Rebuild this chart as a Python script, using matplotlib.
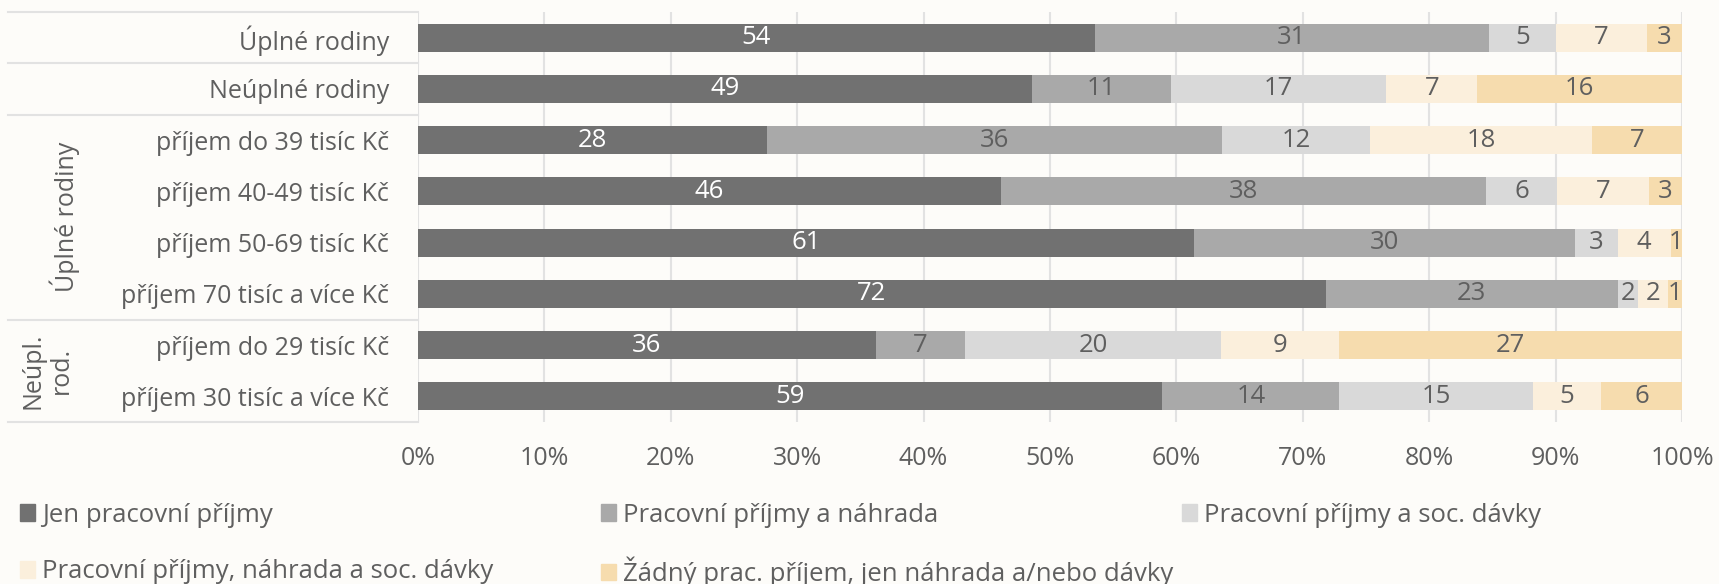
import matplotlib.pyplot as plt
import matplotlib.patches as mpatches
import matplotlib.transforms as mtransforms
import numpy as np

plt.rcParams['font.family'] = ['Open Sans', 'DejaVu Sans']

# data (percent of households)
categories = ['Úplné rodiny', 'Neúplné rodiny',
              'příjem do 39 tisíc Kč', 'příjem 40-49 tisíc Kč',
              'příjem 50-69 tisíc Kč', 'příjem 70 tisíc a více Kč',
              'příjem do 29 tisíc Kč', 'příjem 30 tisíc a více Kč']
series_names = ['Jen pracovní příjmy', 'Pracovní příjmy a náhrada',
                'Pracovní příjmy a soc. dávky',
                'Pracovní příjmy, náhrada a soc. dávky',
                'Žádný prac. příjem, jen náhrada a/nebo dávky']
jen_prace = [53.6, 48.6, 27.6, 46.1, 61.4, 71.8, 36.2, 58.9]
prace_nahrada = [31.2, 11.0, 36.0, 38.4, 30.1, 23.1, 7.1, 14.0]
prace_davky = [5.3, 17.0, 11.7, 5.6, 3.4, 1.6, 20.2, 15.3]
prace_nahrada_davky = [7.2, 7.2, 17.6, 7.3, 4.2, 2.4, 9.4, 5.4]
zadna_prace = [2.8, 16.2, 7.1, 2.6, 0.9, 1.1, 27.1, 6.4]
x_ticks = [0, 10, 20, 30, 40, 50, 60, 70, 80, 90, 100]

colors = ['#717171', '#a9a9a9', '#d9d9d9', '#fbefdc', '#f6dcae']
label_colors = ['white', '#5f5f5f', '#5f5f5f', '#5f5f5f', '#5f5f5f']
bg = '#fdfcf9'
text_c = '#5f5f5f'
line_c = '#e2e2e2'

fig = plt.figure(figsize=(17.19, 5.84), dpi=100, facecolor=bg)
ax = fig.add_axes([418 / 1719, 1 - 422 / 584, 1264 / 1719, 410 / 584])
ax.set_facecolor(bg)

data = np.array([jen_prace, prace_nahrada, prace_davky,
                 prace_nahrada_davky, zadna_prace])
data = data / data.sum(axis=0) * 100
y = np.arange(len(categories))
left = np.zeros(len(categories))
for vals, c, lc in zip(data, colors, label_colors):
    bars = ax.barh(y, vals, left=left, height=0.55, color=c, zorder=3)
    ax.bar_label(bars, labels=[f'{v:.0f}' for v in vals], label_type='center',
                 color=lc, fontsize=18.5)
    left += vals

ax.set_xlim(0, 100)
ax.set_ylim(7.5, -0.5)
ax.set_xticks(x_ticks)
ax.set_xticklabels([f'{t}%' for t in x_ticks])
ax.set_yticks(y)
ax.set_yticklabels(categories)
ax.tick_params(length=0, labelsize=18, labelcolor=text_c)
ax.tick_params(axis='y', pad=21)
ax.tick_params(axis='x', pad=17)
ax.grid(axis='x', color=line_c, lw=1.5, zorder=0)
for s in ax.spines.values():
    s.set_visible(False)

# table-like row group lines on the left
tr = mtransforms.blended_transform_factory(ax.transAxes, ax.transData)
x_left = (8 - 418) / 1264
for yy in [-0.5, 0.5, 1.5, 5.5, 7.5]:
    ax.plot([x_left, 0], [yy, yy], color=line_c, lw=1.5, transform=tr,
            clip_on=False)

ax.text((65 - 418) / 1264, 3.5, 'Úplné rodiny', rotation=90, ha='center',
        va='center', fontsize=18, color=text_c, transform=tr)
ax.text((47 - 418) / 1264, 6.5, 'Neúpl.\nrod.', rotation=90, ha='center',
        va='center', fontsize=18, color=text_c, transform=tr,
        linespacing=1.15)

# legend entries placed like the reference
legend_pos = [(20, 515), (601, 515), (1182, 515), (20, 572), (601, 572)]
for name, c, (px, py) in zip(series_names, colors, legend_pos):
    h = mpatches.Patch(color=c)
    fig.legend(handles=[h], labels=[name], loc='center left',
               bbox_to_anchor=(px / 1719, 1 - py / 584), frameon=False,
               fontsize=18.5, labelcolor=text_c, handlelength=0.6,
               handleheight=0.6, handletextpad=0.25, borderpad=0,
               borderaxespad=0)

plt.savefig('out.png', dpi=100, facecolor=bg)
